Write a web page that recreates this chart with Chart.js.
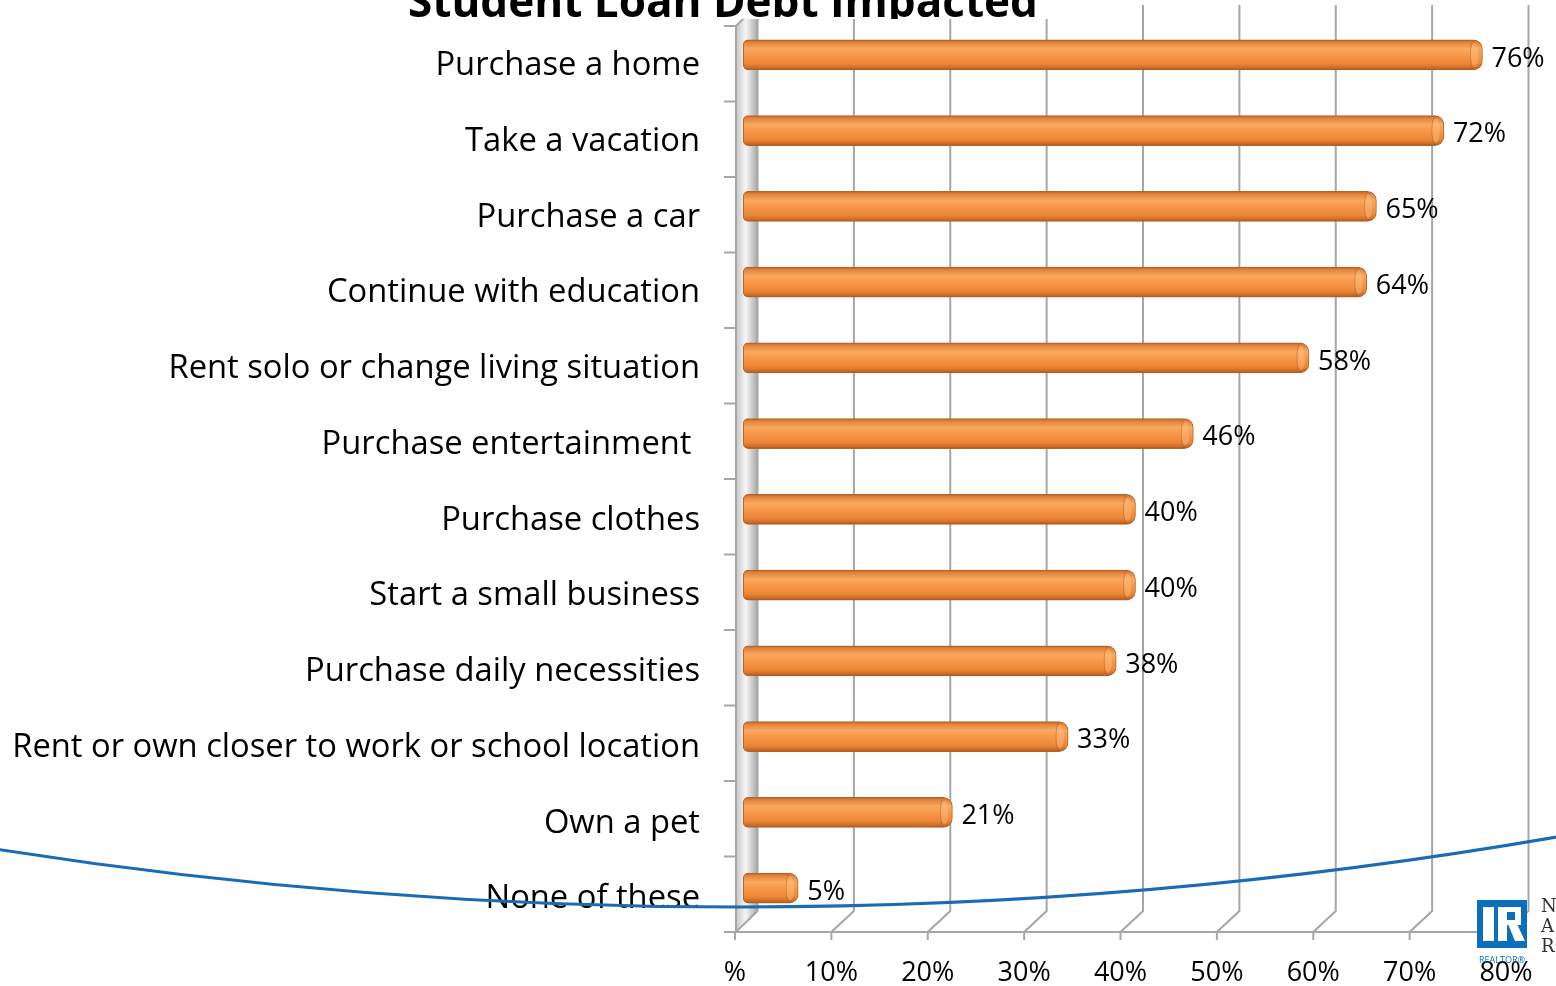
<!DOCTYPE html>
<html><head><meta charset="utf-8">
<script src="https://cdn.jsdelivr.net/npm/chart.js@4.4.1/dist/chart.umd.min.js"></script>
<style>html,body{margin:0;padding:0;background:#fff;overflow:hidden}#wrap{width:1556px;height:986px;position:relative}canvas{display:block}</style>
</head><body><div id="wrap"><canvas id="c" width="1556" height="986"></canvas></div>
<script>
const chartTitle = 'Student Loan Debt Impacted';
const categories = ['Purchase a home','Take a vacation','Purchase a car','Continue with education','Rent solo or change living situation','Purchase entertainment ','Purchase clothes','Start a small business','Purchase daily necessities','Rent or own closer to work or school location','Own a pet','None of these'];
const shares = [76,72,65,64,58,46,40,40,38,33,21,5];
const xTickValues = [0,10,20,30,40,50,60,70,80];
const xTickLabels = ['%','10%','20%','30%','40%','50%','60%','70%','80%'];
const logoLetters = ['N','A','R'];
const logoCaption = 'REALTOR\u00AE';

const FONT = "'Open Sans', sans-serif";
function fitSize(text, weight, target) {
  const m = document.createElement('canvas').getContext('2d');
  m.font = weight + ' 100px ' + FONT;
  return 100 * target / m.measureText(text).width;
}
const catSize = fitSize(categories[9], 'normal', 688);
const titleSize = fitSize(chartTitle, 'bold', 630);
const valSize = 27;

const D = {front: -15, back: 7.5, dy: 21, topBack: 5};

function barFill(c) {
  const ch = c.chart; const ys = ch.scales && ch.scales.y;
  if (!ys || c.type !== 'data' || !isFinite(ys.getPixelForValue(c.dataIndex))) return '#F79646';
  const yc = ys.getPixelForValue(c.dataIndex);
  const g = ch.ctx.createLinearGradient(0, yc - 15, 0, yc + 15);
  g.addColorStop(0, '#B2602A');
  g.addColorStop(0.08, '#E2823A');
  g.addColorStop(0.3, '#FBA860');
  g.addColorStop(0.5, '#F8984A');
  g.addColorStop(0.8, '#EC8636');
  g.addColorStop(0.93, '#CC6C26');
  g.addColorStop(1, '#A05620');
  return g;
}

const decor = {
  id: 'decor',
  beforeDatasetsDraw(chart) {
    const {ctx, chartArea: a, scales: {x: xs, y: ys}} = chart;
    const frontY = a.bottom + 6, backY = frontY - D.dy;
    const topB = D.topBack, topF = topB + D.dy;
    const p0 = xs.getPixelForValue(0);
    const x0f = p0 + D.front + 1, x0b = p0 + D.back;
    ctx.save();
    // left wall
    const wg = ctx.createLinearGradient(x0f, 0, x0b, 0);
    wg.addColorStop(0, '#c4c4c4'); wg.addColorStop(0.45, '#f6f6f6'); wg.addColorStop(1, '#a9a9a9');
    ctx.fillStyle = wg;
    ctx.beginPath(); ctx.moveTo(x0f, topF); ctx.lineTo(x0b, topB); ctx.lineTo(x0b, backY); ctx.lineTo(x0f, frontY); ctx.closePath(); ctx.fill();
    ctx.strokeStyle = '#a6a6a6'; ctx.lineWidth = 2;
    ctx.stroke();
    // gridlines (back wall + floor diagonal + front tick)
    xTickValues.forEach(v => {
      const p = xs.getPixelForValue(v);
      const bx = p + D.back, fx = p + D.front;
      ctx.beginPath();
      if (v > 0) { ctx.moveTo(bx, topB); ctx.lineTo(bx, backY); ctx.lineTo(fx, frontY); }
      else { ctx.moveTo(fx, frontY); }
      ctx.lineTo(fx, frontY + 8);
      ctx.stroke();
    });
    // front floor line
    ctx.beginPath(); ctx.moveTo(x0f - 12, frontY); ctx.lineTo(xs.getPixelForValue(80) + D.front, frontY); ctx.stroke();
    // category ticks on front axis
    for (let k = 0; k <= categories.length; k++) {
      const b = ys.getPixelForValue(k - 0.5);
      const fy = topF + (b - a.top) * (frontY - topF) / (a.bottom - a.top);
      ctx.beginPath(); ctx.moveTo(x0f - 12, fy); ctx.lineTo(x0f, fy); ctx.stroke();
    }
    // title
    ctx.fillStyle = '#fff'; ctx.fillRect(395, 0, 668, 19);
    ctx.beginPath(); ctx.rect(0, 0, 1556, 19); ctx.clip();
    ctx.fillStyle = '#000'; ctx.font = 'bold ' + titleSize + 'px ' + FONT;
    ctx.textAlign = 'center'; ctx.textBaseline = 'alphabetic';
    ctx.fillText(chartTitle, 723, 17);
    ctx.restore();
  },
  afterDatasetsDraw(chart) {
    const {ctx} = chart;
    const meta = chart.getDatasetMeta(0);
    ctx.save();
    meta.data.forEach((el, i) => {
      const {x, y, height} = el.getProps(['x', 'y', 'height'], true);
      ctx.beginPath();
      ctx.ellipse(x - 8, y, 4, height / 2 - 3, 0, 0, Math.PI * 2);
      ctx.fillStyle = 'rgba(255,205,150,0.35)'; ctx.fill();
      ctx.beginPath();
      ctx.ellipse(x - 9, y, 3, height / 2 - 1, 0, Math.PI / 2, Math.PI * 1.5);
      ctx.strokeStyle = 'rgba(170,90,35,0.45)'; ctx.lineWidth = 1; ctx.stroke();
      ctx.fillStyle = '#000'; ctx.font = valSize + 'px ' + FONT;
      ctx.textAlign = 'left'; ctx.textBaseline = 'middle';
      ctx.fillText(shares[i] + '%', x + 9, y + 4);
    });
    // blue arc
    const R = 4800, cx = 740, cy = 907 - R;
    ctx.beginPath();
    ctx.arc(cx, cy, R, Math.PI / 2 - 0.2, Math.PI / 2 + 0.2);
    ctx.strokeStyle = '#1B6AB4'; ctx.lineWidth = 3; ctx.stroke();
    // logo
    ctx.fillStyle = '#0B6FBE'; ctx.fillRect(1477, 900, 50, 48);
    ctx.fillStyle = '#fff';
    ctx.fillRect(1483, 907, 11, 34);
    ctx.fillRect(1498, 907, 9, 34);
    ctx.fillRect(1498, 907, 23, 18);
    ctx.beginPath(); ctx.moveTo(1508, 924); ctx.lineTo(1517, 924); ctx.lineTo(1525, 941); ctx.lineTo(1515, 941); ctx.closePath(); ctx.fill();
    ctx.fillStyle = '#0B6FBE'; ctx.fillRect(1507, 912, 8, 8);
    ctx.font = '9px ' + FONT; ctx.textAlign = 'center'; ctx.textBaseline = 'middle';
    ctx.fillText(logoCaption, 1502, 960);
    ctx.fillStyle = '#333'; ctx.font = '18px "DejaVu Serif", "Liberation Serif", serif'; ctx.textAlign = 'left';
    logoLetters.forEach((t, i) => ctx.fillText(t, 1541, 907 + i * 20));
    ctx.restore();
  }
};

new Chart(document.getElementById('c'), {
  type: 'bar',
  data: {labels: categories, datasets: [{
    data: shares, base: -0.7, clip: false, barThickness: 30,
    backgroundColor: barFill, borderColor: '#B4642A', borderWidth: 1, borderSkipped: false,
    borderRadius: {topLeft: 5, bottomLeft: 5, topRight: 9, bottomRight: 9}
  }]},
  options: {
    indexAxis: 'y', responsive: false, animation: false, devicePixelRatio: 1,
    layout: {padding: {top: 17, right: 35, left: 0, bottom: 0}},
    plugins: {legend: {display: false}, tooltip: {enabled: false}, title: {display: false}},
    scales: {
      x: {min: 0, max: 80, position: 'bottom', grid: {display: false, drawTicks: false}, border: {display: false},
        ticks: {stepSize: 10, autoSkip: false, maxRotation: 0, labelOffset: -15, padding: 31, color: '#000',
          font: {family: FONT, size: valSize},
          callback: v => xTickLabels[xTickValues.indexOf(v)]},
        afterFit: s => { s.height = 60; s.paddingLeft = 0; s.paddingRight = 0; }},
      y: {grid: {display: false, drawTicks: false}, border: {display: false},
        ticks: {autoSkip: false, padding: 50, labelOffset: 11, color: '#000', font: {family: FONT, size: catSize}},
        afterFit: s => { s.width = 750; s.paddingTop = 0; s.paddingBottom = 0; }}
    }
  },
  plugins: [decor]
});
</script></body></html>
